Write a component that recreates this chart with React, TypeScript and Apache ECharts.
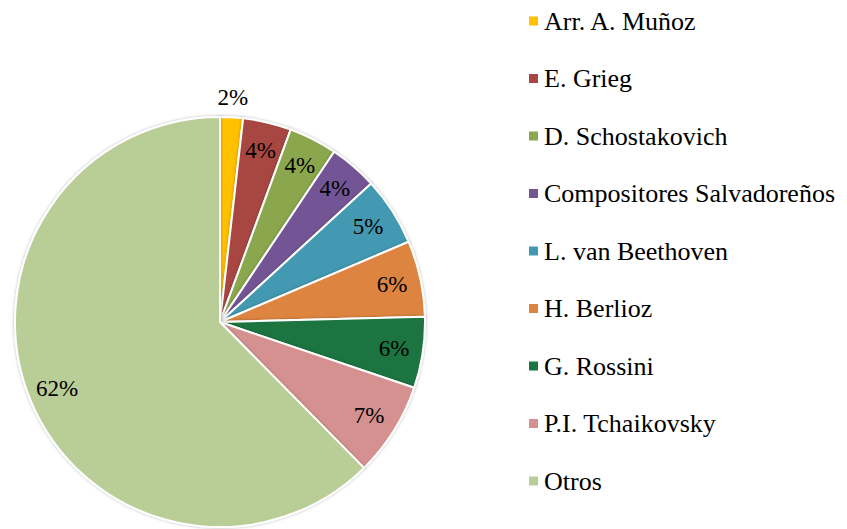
import React, { useEffect, useRef } from "react";
import * as echarts from "echarts";

const names = [
  "Arr. A. Muñoz",
  "E. Grieg",
  "D. Schostakovich",
  "Compositores Salvadoreños",
  "L. van Beethoven",
  "H. Berlioz",
  "G. Rossini",
  "P.I. Tchaikovsky",
  "Otros",
];
const values = [1.8, 3.8, 3.8, 3.8, 5.4, 6.0, 5.6, 7.4, 62.4];
const colors = [
  "#FFC000",
  "#A84643",
  "#8BA74E",
  "#735595",
  "#4399B1",
  "#DD843F",
  "#1B7541",
  "#D49190",
  "#B9CD97",
];
// which slices have their label placed outside the pie
const outsideLabel = [true, false, false, false, false, false, false, false, false];

const FONT = "Liberation Serif";

export default function App() {
  const ref = useRef<HTMLDivElement>(null);
  useEffect(() => {
    if (!ref.current) return;
    const chart = echarts.init(ref.current, null, { renderer: "svg" });
    const center = [220, 322];
    const fmt = (p: any) => Math.round(p.value) + "%";
    const labelStyle = {
      show: true,
      position: "inside",
      formatter: fmt,
      fontFamily: FONT,
      fontSize: 23,
      color: "#000",
    };
    chart.setOption({
      animation: false,
      backgroundColor: "#fff",
      legend: {
        orient: "vertical",
        left: 527,
        top: 8,
        padding: 0,
        itemWidth: 11,
        itemHeight: 11,
        itemGap: 31.5,
        icon: "rect",
        data: names,
        selectedMode: false,
        textStyle: {
          fontFamily: FONT,
          fontSize: 26,
          lineHeight: 26,
          color: "#000",
        },
      },
      series: [
        {
          type: "pie",
          center,
          radius: [0, 205],
          startAngle: 90,
          clockwise: true,
          label: { show: false },
          labelLine: { show: false },
          itemStyle: {
            borderColor: "#fff",
            borderWidth: 2,
            shadowColor: "rgba(0,0,0,0.3)",
            shadowBlur: 3,
          },
          emphasis: { disabled: true },
          data: names.map((n, i) => ({
            name: n,
            value: values[i],
            itemStyle: { color: colors[i] },
          })),
        },
        {
          type: "pie",
          center,
          radius: [139, 207],
          startAngle: 90,
          silent: true,
          avoidLabelOverlap: false,
          itemStyle: { color: "rgba(0,0,0,0)", borderWidth: 0 },
          emphasis: { disabled: true },
          labelLine: { show: false },
          label: labelStyle,
          data: names.map((n, i) => ({
            name: n,
            value: values[i],
            label: { show: !outsideLabel[i] },
          })),
        },
        {
          type: "pie",
          center,
          radius: [210, 234],
          startAngle: 90,
          silent: true,
          avoidLabelOverlap: false,
          itemStyle: { color: "rgba(0,0,0,0)", borderWidth: 0 },
          emphasis: { disabled: true },
          labelLine: { show: false },
          label: labelStyle,
          data: names.map((n, i) => ({
            name: n,
            value: values[i],
            label: { show: outsideLabel[i] },
          })),
        },
      ],
    });
    return () => chart.dispose();
  }, []);
  return (
    <div
      ref={ref}
      style={{ position: "fixed", left: 0, top: 0, width: 847, height: 529 }}
    />
  );
}
